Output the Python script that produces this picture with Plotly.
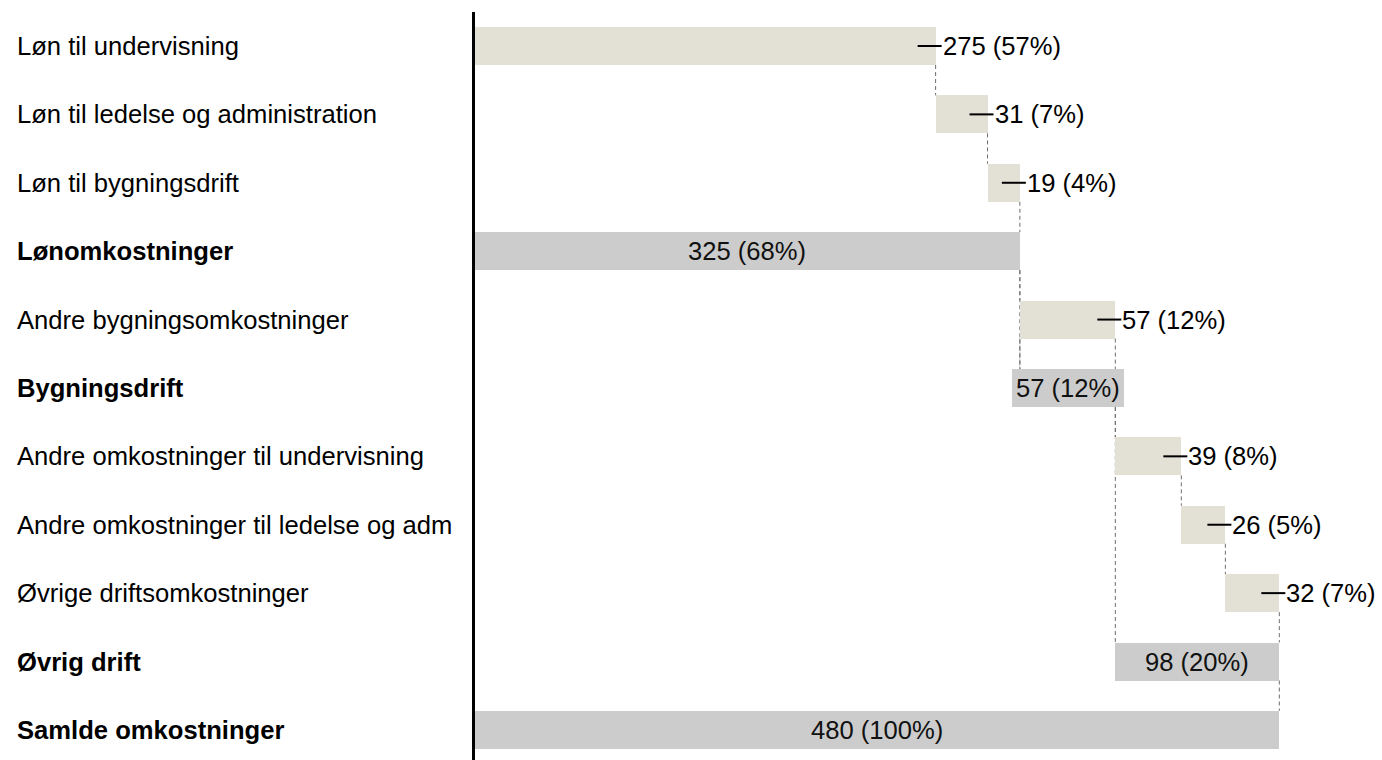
import plotly.graph_objects as go

categories = [
    "Løn til undervisning",
    "Løn til ledelse og administration",
    "Løn til bygningsdrift",
    "Lønomkostninger",
    "Andre bygningsomkostninger",
    "Bygningsdrift",
    "Andre omkostninger til undervisning",
    "Andre omkostninger til ledelse og adm",
    "Øvrige driftsomkostninger",
    "Øvrig drift",
    "Samlde omkostninger",
]
row_kind = ["item", "item", "item", "subtotal", "item", "subtotal",
            "item", "item", "item", "subtotal", "total"]
item_values = [275, 31, 19.3, None, 57, None, 39.4, 26.3, 32.2, None, None]
value_labels = ["275 (57%)", "31 (7%)", "19 (4%)", "325 (68%)", "57 (12%)",
                "57 (12%)", "39 (8%)", "26 (5%)", "32 (7%)", "98 (20%)",
                "480 (100%)"]

ITEM_COLOR = "#e3e0d6"
TOTAL_COLOR = "#cccccc"
FONT = "Liberation Sans, Arial, sans-serif"
FS = 25.6
BAR_W = 0.556

# compute bases / lengths
bases, lengths = [], []
running = 0.0
group_start = 0.0
for kind, v in zip(row_kind, item_values):
    if kind == "item":
        bases.append(running)
        lengths.append(v)
        running += v
    elif kind == "subtotal":
        bases.append(group_start)
        lengths.append(running - group_start)
        group_start = running
    else:
        bases.append(0.0)
        lengths.append(running)

n = len(categories)
ys = list(range(n))
colors = [ITEM_COLOR if k == "item" else TOTAL_COLOR for k in row_kind]

fig = go.Figure()
fig.add_trace(go.Bar(
    orientation="h", y=ys, x=lengths, base=bases, width=BAR_W,
    marker=dict(color=colors, line=dict(width=0)),
    hoverinfo="skip", showlegend=False,
))

shapes = []
annotations = []

def edges(i):
    return {round(bases[i], 6), round(bases[i] + lengths[i], 6)}

def add_conn(x, i_top, i_bot):
    shapes.append(dict(
        type="line", xref="x", yref="y", layer="below",
        x0=x, x1=x, y0=i_top + BAR_W / 2, y1=i_bot - BAR_W / 2,
        line=dict(color="#6e6e6e", width=1, dash="4px,3px"),
    ))

for i in range(n - 1):
    for e in edges(i) & edges(i + 1):
        if e > 0:
            add_conn(e, i, i + 1)

for j in range(n):
    if row_kind[j] == "subtotal" and bases[j] > 0:
        for k in range(j - 1, -1, -1):
            if row_kind[k] == "subtotal" and abs(bases[k] + lengths[k] - bases[j]) < 1e-6:
                add_conn(bases[j], k, j)
                break

for i in range(n):
    kind = row_kind[i]
    label = categories[i] if kind == "item" else "<b>" + categories[i] + "</b>"
    annotations.append(dict(
        xref="paper", yref="y", x=-0.5069, y=i, xanchor="left", yanchor="middle",
        text=label, showarrow=False, font=dict(family=FONT, size=FS, color="#000000"),
    ))
    end = bases[i] + lengths[i]
    if kind == "item":
        shapes.append(dict(
            type="line", xref="x", yref="y", xsizemode="pixel", xanchor=end,
            x0=-18, x1=6, y0=i, y1=i, line=dict(color="#000000", width=2),
        ))
        annotations.append(dict(
            xref="x", yref="y", x=end, y=i, xanchor="left", yanchor="middle",
            xshift=5, text=value_labels[i], showarrow=False,
            font=dict(family=FONT, size=FS, color="#000000"),
        ))
    else:
        annotations.append(dict(
            xref="x", yref="y", x=bases[i] + lengths[i] / 2, y=i,
            xanchor="center", yanchor="middle", text=value_labels[i],
            showarrow=False, bgcolor=TOTAL_COLOR, borderpad=4, borderwidth=0,
            height=30, font=dict(family=FONT, size=FS, color="#111111"),
        ))

fig.update_layout(
    width=1382, height=760,
    margin=dict(l=475, r=0, t=12, b=0),
    plot_bgcolor="white", paper_bgcolor="white",
    xaxis=dict(range=[0, 541.5], visible=False, fixedrange=True),
    yaxis=dict(range=[10.44, -0.497], showticklabels=False, showgrid=False,
               zeroline=False, showline=True, linewidth=3, linecolor="#000000",
               ticks="", fixedrange=True),
    bargap=0,
    shapes=shapes,
    annotations=annotations,
    showlegend=False,
)

fig.write_html(
    "out.html",
    config={"displayModeBar": False, "staticPlot": True},
    post_script="document.body.style.margin='0';document.body.style.overflow='hidden';",
)
